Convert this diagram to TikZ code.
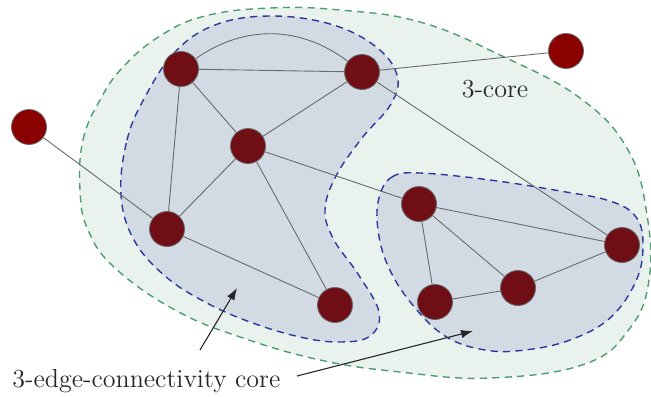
\documentclass[tikz,border=0pt]{standalone}
\usetikzlibrary{arrows.meta}
\definecolor{corefill}{HTML}{E9F2EC}
\definecolor{coredraw}{HTML}{4E9E72}
\definecolor{ecfill}{HTML}{D2DBE3}
\definecolor{ecdraw}{HTML}{2A3A9C}
\definecolor{innode}{HTML}{700E15}
\definecolor{outnode}{HTML}{8B0000}
\definecolor{edgecol}{HTML}{6A6A6A}
\tikzset{
  vtx/.style={circle, fill=innode, draw=black!60, line width=0.4pt, minimum size=17.5pt, inner sep=0pt},
  outvtx/.style={vtx, fill=outnode},
  edge/.style={draw=edgecol, line width=0.45pt},
  coreregion/.style={fill=corefill, draw=coredraw, line width=0.7pt, dash pattern=on 3.6pt off 2.6pt},
  ecregion/.style={fill=ecfill, draw=ecdraw, line width=0.7pt, dash pattern=on 3.6pt off 2.6pt},
  lbl/.style={font=\fontsize{13}{15}\selectfont, text=black!85, inner sep=0pt},
  pointer/.style={-{Latex[length=6pt,width=4.2pt]}, line width=0.55pt, black!85}
}
\begin{document}
\begin{tikzpicture}[x=0.5pt,y=-0.5pt]
\useasboundingbox (0,0) rectangle (651,396);
% 3-core region
\path[coreregion] plot[smooth cycle, tension=0.7] coordinates {
 (80,190) (83,140) (100,100) (123,67) (160,36) (205,16) (270,8) (340,10) (420,22)
 (500,55) (580,98) (628,150) (647,215) (649,280) (630,328) (585,364) (490,378)
 (400,372) (320,360) (240,337) (175,310) (115,268) (88,230)};
% 3-edge-connectivity cores
\path[ecregion] plot[smooth cycle, tension=0.65] coordinates {
 (121,195) (127,140) (145,97) (175,52) (215,25) (270,16) (330,24) (375,46) (397,75)
 (391,104) (362,138) (336,176) (325,210) (334,240) (358,274) (379,312) (370,336)
 (340,342) (300,337) (250,322) (205,302) (165,276) (134,240)};
\path[ecregion] plot[smooth cycle, tension=0.65] coordinates {
 (379,198) (392,177) (420,173) (490,180) (560,191) (610,201) (636,217) (643,245)
 (636,281) (610,318) (570,340) (525,350) (485,350) (445,336) (411,303) (388,266) (378,230)};
% vertices
\node[vtx] (A) at (181,69) {};
\node[vtx] (B) at (362,72) {};
\node[vtx] (C) at (248,146) {};
\node[vtx] (D) at (167,229) {};
\node[vtx] (E) at (335,305) {};
\node[vtx] (F) at (419,204) {};
\node[vtx] (G) at (622,245) {};
\node[vtx] (H) at (518,288) {};
\node[vtx] (I) at (435,302) {};
\node[outvtx] (P) at (29,127) {};
\node[outvtx] (Q) at (566,51) {};
% edges
\path[edge] (A) -- (B);
\path[edge] (A) to[bend left=36] (B);
\path[edge] (A) -- (C);
\path[edge] (A) -- (D);
\path[edge] (B) -- (C);
\path[edge] (C) -- (D);
\path[edge] (C) -- (E);
\path[edge] (C) -- (F);
\path[edge] (D) -- (E);
\path[edge] (D) -- (P);
\path[edge] (B) -- (Q);
\path[edge] (B) -- (G);
\path[edge] (F) -- (G);
\path[edge] (F) -- (I);
\path[edge] (F) -- (H);
\path[edge] (H) -- (I);
\path[edge] (H) -- (G);
% labels
\node[lbl, anchor=base] (core) at (495,97) {3-core};
\node[lbl, anchor=base west] (ec) at (12,387) {3-edge-connectivity core};
\coordinate (s1) at (200,350);
\coordinate (t1) at (237,288);
\coordinate (s2) at (297,376);
\coordinate (t2) at (473,331);
\draw[pointer] (s1) -- (t1);
\draw[pointer] (s2) -- (t2);
\end{tikzpicture}
\end{document}
